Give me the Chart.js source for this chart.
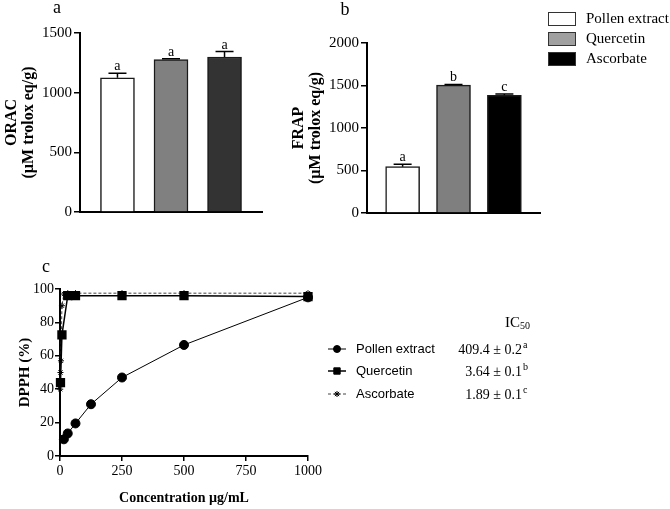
<!DOCTYPE html>
<html>
<head>
<meta charset="utf-8">
<script src="https://cdn.jsdelivr.net/npm/chart.js@4.4.1/dist/chart.umd.min.js"></script>
<style>
  html,body{margin:0;padding:0;background:#fff;}
  body{width:670px;height:509px;position:relative;overflow:hidden;}
  canvas{position:absolute;}
</style>
</head>
<body>
<canvas id="ca" width="265" height="230" style="left:0;top:0"></canvas>
<canvas id="cb" width="410" height="230" style="left:260px;top:0"></canvas>
<canvas id="cc" width="670" height="259" style="left:0;top:250px"></canvas>
<script>
// ---- data ----
const barCategories = ['Pollen extract', 'Quercetin', 'Ascorbate'];
const oracValues = [1125, 1277, 1299];
const oracErrors = [38, 8, 45];
const oracLetters = ['a', 'a', 'a'];
const frapValues = [545, 1505, 1385];
const frapErrors = [30, 8, 15];
const frapLetters = ['a', 'b', 'c'];
const oracTicks = [0, 500, 1000, 1500];
const frapTicks = [0, 500, 1000, 1500, 2000];

const pollenConc = [15.6, 31.25, 62.5, 125, 250, 500, 1000];
const pollenDPPH = [10, 13.5, 19.5, 31, 47, 66.5, 95];
const quercetinConc = [1.95, 7.8, 31.25, 62.5, 250, 500, 1000];
const quercetinDPPH = [44, 72.5, 96, 96, 96, 96, 95.5];
const ascorbateConc = [0.98, 1.95, 3.9, 7.8, 15.6, 31.25, 62.5, 250, 500, 1000];
const ascorbateDPPH = [40, 50, 57, 90, 97, 97.5, 97.5, 97.5, 97.5, 97.5];
const dpphXTicks = [0, 250, 500, 750, 1000];
const dpphYTicks = [0, 20, 40, 60, 80, 100];
const ic50Labels = ['409.4 ± 0.2', '3.64 ± 0.1', '1.89 ± 0.1'];
const ic50Letters = ['a', 'b', 'c'];

// ---- style ----
const SERIF = '"Liberation Serif", "Times New Roman", serif';
const SANS = '"Liberation Sans", Arial, sans-serif';
const legendColors = ['#ffffff', '#a0a0a0', '#000000'];
const plainTick = v => String(v);

function errorPlugin(letterText, letterX, letterY, extra) {
  return {
    id: 'errs',
    afterDatasetsDraw(chart) {
      const ctx = chart.ctx;
      const ds = chart.data.datasets[0];
      const meta = chart.getDatasetMeta(0);
      const ys = chart.scales.y;
      ctx.save();
      ctx.strokeStyle = '#000';
      ctx.lineWidth = 1.5;
      meta.data.forEach((bar, i) => {
        const top = ys.getPixelForValue(ds.values[i] + ds.errors[i]);
        const x = bar.x;
        ctx.beginPath();
        ctx.moveTo(x, bar.y);
        ctx.lineTo(x, top);
        ctx.moveTo(x - 9, top);
        ctx.lineTo(x + 9, top);
        ctx.stroke();
        ctx.fillStyle = '#000';
        ctx.font = '14px ' + SERIF;
        ctx.textAlign = 'center';
        ctx.textBaseline = 'alphabetic';
        ctx.fillText(ds.letters[i], x, top - 3);
      });
      ctx.font = '18px ' + SERIF;
      ctx.textAlign = 'center';
      ctx.textBaseline = 'alphabetic';
      ctx.fillStyle = '#000';
      ctx.fillText(letterText, letterX, letterY);
      if (extra) extra(ctx);
      ctx.restore();
    }
  };
}

function barChart(id, values, errors, letters, colors, ticks, title, cfg) {
  const maxV = ticks[ticks.length - 1];
  return new Chart(document.getElementById(id), {
    type: 'bar',
    data: {
      labels: barCategories,
      datasets: [{
        data: values.map((v, i) => ({ x: i, y: v })),
        values: values, errors: errors, letters: letters,
        backgroundColor: colors,
        borderColor: '#1a1a1a',
        borderWidth: 1.5,
        barThickness: 34
      }]
    },
    options: {
      responsive: false,
      animation: false,
      events: [],
      layout: { padding: { left: 0, right: cfg.padRight, top: cfg.padTop, bottom: 0 } },
      plugins: { legend: { display: false }, tooltip: { enabled: false } },
      scales: {
        x: {
          type: 'linear', min: -0.7, max: 2.7, offset: false,
          ticks: { display: false },
          grid: { display: false },
          border: { display: true, color: '#000', width: 2 },
          afterFit: s => { s.height = cfg.xHeight; }
        },
        y: {
          min: 0, max: maxV,
          afterBuildTicks: s => { s.ticks = ticks.map(v => ({ value: v })); },
          ticks: { color: '#000', font: { family: SERIF, size: 15 }, padding: 2, callback: plainTick },
          grid: { drawOnChartArea: false, drawTicks: true, tickLength: 6, color: '#000', lineWidth: 1.5 },
          border: { display: true, color: '#000', width: 2 },
          title: {
            display: true, text: title, color: '#000',
            font: { family: SERIF, size: 16, weight: 'bold', lineHeight: 1.06 },
            padding: { top: cfg.titlePad, bottom: 0 }
          },
          afterFit: s => { s.width = cfg.yWidth; }
        }
      }
    },
    plugins: [errorPlugin(cfg.letter, cfg.letterX, cfg.letterY, cfg.extra)]
  });
}

barChart('ca', oracValues, oracErrors, oracLetters, ['#ffffff', '#808080', '#333333'], oracTicks,
  ['ORAC', '(µM trolox eq/g)'],
  { padRight: 3, padTop: 33, xHeight: 18, yWidth: 80, titlePad: 3.5, letter: 'a', letterX: 57, letterY: 13 });

barChart('cb', frapValues, frapErrors, frapLetters, ['#ffffff', '#7f7f7f', '#000000'], frapTicks,
  ['FRAP', '(µM trolox eq/g)'],
  { padRight: 130, padTop: 43, xHeight: 17, yWidth: 107, titlePad: 30.5, letter: 'b', letterX: 85, letterY: 15,
    extra: ctx => {
      const tops = [12, 32, 52];
      barCategories.forEach((name, i) => {
        ctx.fillStyle = legendColors[i];
        ctx.fillRect(288, tops[i], 28, 14);
        ctx.strokeStyle = '#333';
        ctx.lineWidth = 1;
        ctx.strokeRect(288.5, tops[i] + 0.5, 27, 13);
        ctx.fillStyle = '#000';
        ctx.font = '15px ' + SERIF;
        ctx.textAlign = 'left';
        ctx.textBaseline = 'middle';
        ctx.fillText(name, 326, tops[i] + 7.5);
      });
    }
  });

// ---- DPPH line chart ----
const dpphLegendPlugin = {
  id: 'dpphLegend',
  afterDraw(chart) {
    const ctx = chart.ctx;
    ctx.save();
    ctx.fillStyle = '#000';
    ctx.font = '18px ' + SERIF;
    ctx.textAlign = 'center';
    ctx.textBaseline = 'alphabetic';
    ctx.fillText('c', 46, 22);

    const rows = [99, 121, 144];
    const styles = ['circle', 'rect', 'star'];
    chart.data.datasets.forEach((ds, i) => {
      const y = rows[i];
      ctx.strokeStyle = ds.borderColor;
      ctx.lineWidth = ds.borderWidth;
      ctx.setLineDash(ds.borderDash || []);
      ctx.beginPath();
      ctx.moveTo(328, y);
      ctx.lineTo(346, y);
      ctx.stroke();
      ctx.setLineDash([]);
      ctx.fillStyle = '#000';
      ctx.strokeStyle = '#000';
      ctx.lineWidth = 1;
      Chart.helpers.drawPoint(ctx, {
        pointStyle: styles[i], radius: i === 1 ? 4.5 : (i === 0 ? 3.5 : 3), rotation: 0, borderWidth: 1
      }, 337, y);
      ctx.font = '13px ' + SANS;
      ctx.textAlign = 'left';
      ctx.textBaseline = 'middle';
      ctx.fillStyle = '#000';
      ctx.fillText(ds.label, 356, y);
      ctx.font = '14px ' + SERIF;
      ctx.textAlign = 'right';
      ctx.fillText(ic50Labels[i], 522, y + 1);
      ctx.font = '10px ' + SERIF;
      ctx.textAlign = 'left';
      ctx.fillText(ic50Letters[i], 523, y - 4);
    });
    ctx.font = '15px ' + SERIF;
    ctx.textAlign = 'left';
    ctx.textBaseline = 'middle';
    ctx.fillText('IC', 505, 73);
    const w = ctx.measureText('IC').width;
    ctx.font = '10px ' + SERIF;
    ctx.fillText('50', 505 + w, 76);
    ctx.restore();
  }
};

new Chart(document.getElementById('cc'), {
  type: 'scatter',
  data: {
    datasets: [
      {
        label: 'Pollen extract',
        data: pollenConc.map((x, i) => ({ x: x, y: pollenDPPH[i] })),
        showLine: true, borderColor: '#000', borderWidth: 1,
        backgroundColor: '#000', pointStyle: 'circle', pointRadius: 4.5,
        pointBackgroundColor: '#000', pointBorderColor: '#000', clip: false
      },
      {
        label: 'Quercetin',
        data: quercetinConc.map((x, i) => ({ x: x, y: quercetinDPPH[i] })),
        showLine: true, borderColor: '#000', borderWidth: 1.5,
        backgroundColor: '#000', pointStyle: 'rect', pointRadius: 5.5,
        pointBackgroundColor: '#000', pointBorderColor: '#000', clip: false
      },
      {
        label: 'Ascorbate',
        data: ascorbateConc.map((x, i) => ({ x: x, y: ascorbateDPPH[i] })),
        showLine: true, borderColor: '#444', borderWidth: 1, borderDash: [3, 2],
        backgroundColor: '#000', pointStyle: 'star', pointRadius: 3,
        pointBackgroundColor: '#000', pointBorderColor: '#000', pointBorderWidth: 1, clip: false
      }
    ]
  },
  options: {
    responsive: false,
    animation: false,
    events: [],
    layout: { padding: { left: 0, right: 362, top: 39, bottom: 0 } },
    plugins: { legend: { display: false }, tooltip: { enabled: false } },
    scales: {
      x: {
        type: 'linear', min: 0, max: 1000,
        afterBuildTicks: s => { s.ticks = dpphXTicks.map(v => ({ value: v })); },
        ticks: { color: '#000', font: { family: SERIF, size: 14 }, padding: 2, maxRotation: 0, callback: plainTick },
        grid: { drawOnChartArea: false, drawTicks: true, tickLength: 5, color: '#000', lineWidth: 1.5 },
        border: { display: true, color: '#000', width: 2 },
        title: {
          display: true, text: 'Concentration µg/mL', color: '#000',
          font: { family: SERIF, size: 14, weight: 'bold', lineHeight: 1.2 },
          padding: { top: 0, bottom: 2 }
        },
        afterFit: s => { s.height = 53; }
      },
      y: {
        min: 0, max: 100,
        afterBuildTicks: s => { s.ticks = dpphYTicks.map(v => ({ value: v })); },
        ticks: { color: '#000', font: { family: SERIF, size: 14 }, padding: 1, callback: plainTick },
        grid: { drawOnChartArea: false, drawTicks: true, tickLength: 5, color: '#000', lineWidth: 1.5 },
        border: { display: true, color: '#000', width: 2 },
        title: {
          display: true, text: 'DPPH (%)', color: '#000',
          font: { family: SERIF, size: 15, weight: 'bold', lineHeight: 1.2 },
          padding: { top: 16, bottom: 0 }
        },
        afterFit: s => { s.width = 60; }
      }
    }
  },
  plugins: [dpphLegendPlugin]
});
</script>
</body>
</html>
